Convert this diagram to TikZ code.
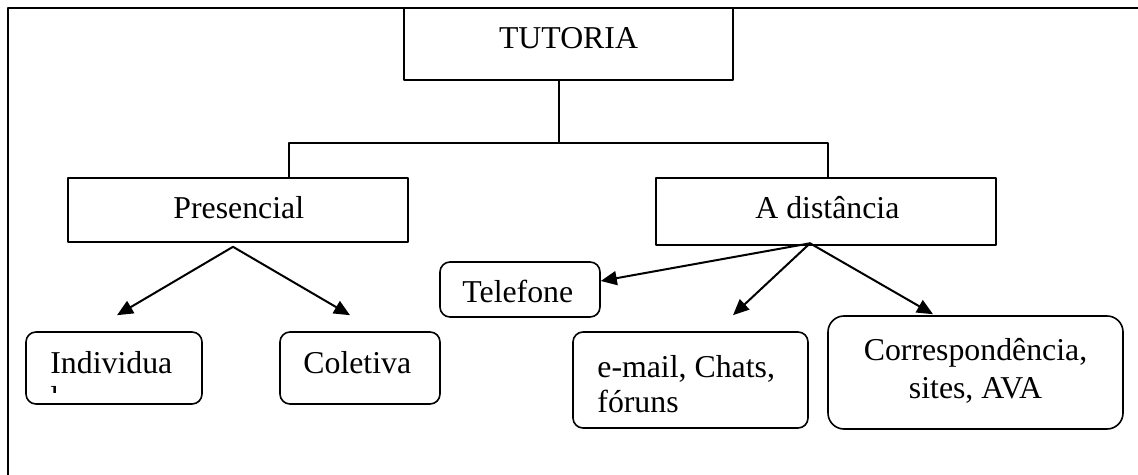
\documentclass[tikz,border=0pt]{standalone}
\usepackage{fontspec}
\setmainfont{Liberation Serif}
\usetikzlibrary{arrows.meta}
\tikzset{
  box/.style={draw,line width=0.8pt,inner sep=0pt},
  roundbox/.style={box,rounded corners=5pt},
  txt/.style={inner sep=0pt,font=\fontsize{15.9}{19}\selectfont},
}

\begin{document}
\begin{tikzpicture}[line cap=round,line join=round,>={Triangle[length=8pt,width=7pt]},x=0.5pt,y=-0.5pt]
  \useasboundingbox (0,0) rectangle (1138,475);
  % outer frame, only left and top edges inside the page
  \begin{scope}
    \clip (0,0) rectangle (1138,475);
    \draw [line width=1pt] (8,8) rectangle (1170,510);
  \end{scope}
  % boxes
  \node [box,minimum width=164.5pt,minimum height=36pt] (tutoria) at (568.5,44) {};
  \node [box,minimum width=170pt,minimum height=32pt] (presencial) at (238,210) {};
  \node [box,minimum width=170pt,minimum height=33.5pt] (distancia) at (826,211.5) {};
  \node [roundbox,minimum width=88pt,minimum height=36pt] (individual) at (114,368) {};
  \node [roundbox,minimum width=80pt,minimum height=36pt] (coletiva) at (360,368) {};
  \node [roundbox,minimum width=80pt,minimum height=27.5pt] (telefone) at (520,289.5) {};
  \node [roundbox,minimum width=117.5pt,minimum height=48pt] (email) at (690.5,380) {};
  \node [roundbox,rounded corners=8pt,minimum width=147.5pt,minimum height=56.5pt] (corresp) at (975.5,372.5) {};
  % texts
  \node [txt,anchor=base] (tutoriatxt) at (568.5,49) {TUTORIA};
  \node [txt,anchor=base west] (presencialtxt) at (173,219) {Presencial};
  \node [txt,anchor=base west] (distanciatxt) at (755,219) {A distância};
  \node [txt,anchor=base west] (individualtxt) at (50,373) {Individua};
  \begin{scope}
    \clip (30,380) rectangle (198,392);
    \node [txt,anchor=base west] (individualrest) at (50,408) {l};
  \end{scope}
  \node [txt,anchor=base west] (coletivatxt) at (303,373) {Coletiva};
  \node [txt,anchor=base west] (telefonetxt) at (462,302) {Telefone};
  \node [txt,anchor=base west] (emailtxt) at (597,377) {e-mail, Chats,};
  \node [txt,anchor=base west] (foruns) at (597,412) {fóruns};
  \node [txt,anchor=base] (correspa) at (975.5,360) {Correspondência,};
  \node [txt,anchor=base] (correspb) at (975.5,398) {sites, AVA};
  % tree lines
  \coordinate (split) at (559,143);
  \coordinate (lft) at (289,143);
  \coordinate (rgt) at (828,143);
  \draw [line width=0.8pt] (tutoria.south -| split) -- (split);
  \draw [line width=0.8pt] (lft |- presencial.north) -- (lft) -- (rgt) -- (rgt |- distancia.north);
  % arrows
  \coordinate (pfork) at ([xshift=-2.5pt,yshift=-2pt]presencial.south);
  \coordinate (dfork) at ([xshift=-8pt,yshift=1.25pt]distancia.south);
  \draw [->,line width=1pt] (pfork) -- ([xshift=1.5pt,yshift=8pt]individual.north);
  \draw [->,line width=1pt] (pfork) -- ([xshift=-5pt,yshift=8pt]coletiva.north);
  \draw [->,line width=1pt] (dfork) -- ([yshift=4.25pt]telefone.east);
  \draw [->,line width=1pt] (dfork) -- ([xshift=21.25pt,yshift=8pt]email.north);
  \draw [->,line width=1pt] (dfork) -- ([xshift=-21.25pt,yshift=0.5pt]corresp.north);
\end{tikzpicture}
\end{document}
